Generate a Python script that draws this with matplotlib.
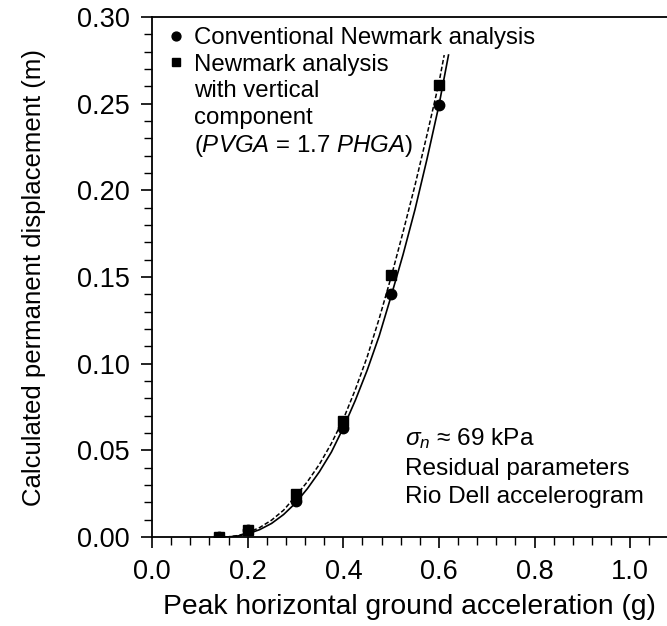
import matplotlib
matplotlib.use("Agg")
import matplotlib.pyplot as plt
from matplotlib.lines import Line2D
from matplotlib.ticker import MultipleLocator, FormatStrFormatter

# ── data ──────────────────────────────────────────────────────────────────
# measured points (PHGA in g, displacement in m)
pga_pts = [0.14, 0.20, 0.30, 0.40, 0.50, 0.60]
disp_conv = [0.000, 0.004, 0.021, 0.063, 0.140, 0.249]
disp_vert = [0.000, 0.004, 0.025, 0.067, 0.151, 0.261]

# fitted curves
curve_x_conv = [0.14, 0.16, 0.18, 0.20, 0.225, 0.25, 0.275, 0.30, 0.325,
                0.35, 0.375, 0.40, 0.425, 0.45, 0.475, 0.50, 0.525, 0.55,
                0.575, 0.60, 0.62]
curve_y_conv = [0.0, 0.0001, 0.0007, 0.0019, 0.0043, 0.0079, 0.013, 0.0196,
                0.028, 0.0377, 0.049, 0.063, 0.0788, 0.0963, 0.116, 0.139,
                0.163, 0.189, 0.218, 0.249, 0.278]
curve_x_vert = [0.14, 0.16, 0.18, 0.20, 0.225, 0.25, 0.275, 0.30, 0.325,
                0.35, 0.375, 0.40, 0.425, 0.45, 0.475, 0.50, 0.525, 0.55,
                0.575, 0.60, 0.611]
curve_y_vert = [0.0, 0.0002, 0.0009, 0.0025, 0.0055, 0.0098, 0.0155, 0.0235,
                0.032, 0.042, 0.054, 0.068, 0.085, 0.104, 0.126, 0.150,
                0.176, 0.203, 0.232, 0.262, 0.278]

legend_labels = ['Conventional Newmark analysis', 'Newmark analysis',
                 'with vertical', 'component',
                 '($\\mathit{PVGA}$ = 1.7 $\\mathit{PHGA}$)']
note_text = '$\\sigma_n$ ≈ 69 kPa\nResidual parameters\nRio Dell accelerogram'
# ─────────────────────────────────────────────────────────────────────────

plt.rcParams['font.family'] = ['Liberation Sans', 'DejaVu Sans']
plt.rcParams['mathtext.fontset'] = 'custom'
plt.rcParams['mathtext.rm'] = 'Liberation Sans'
plt.rcParams['mathtext.it'] = 'Liberation Sans:italic'

fig = plt.figure(figsize=(6.67, 6.26), dpi=100)
ax = fig.add_axes([0.228, 0.142, 0.772, 0.831])

ax.plot(curve_x_conv, curve_y_conv, color='black', lw=1.2, ls='-')
ax.plot(curve_x_vert, curve_y_vert, color='black', lw=1.1, ls=(0, (3, 1.5)))

h_vert, = ax.plot(pga_pts, disp_vert, ls='none', marker='s', ms=7.5,
                  color='black')
h_conv, = ax.plot(pga_pts, disp_conv, ls='none', marker='o', ms=7.5,
                  color='black')

# continuation lines of the second entry carry no marker
blank = [Line2D([], [], ls='none') for _ in range(3)]
ax.legend([h_conv, h_vert] + blank, legend_labels, loc='upper left',
          bbox_to_anchor=(0.0, 1.013), frameon=False, fontsize=17.3,
          handlelength=0.6, handletextpad=0.45, borderaxespad=0.3,
          labelspacing=0.19, markerscale=0.85)

ax.text(0.491, 0.056, note_text, transform=ax.transAxes, fontsize=17.6,
        ha='left', va='bottom', linespacing=1.38)

ax.set_xlim(0, 1.077)
ax.set_ylim(0, 0.30)
ax.xaxis.set_major_locator(MultipleLocator(0.2))
ax.xaxis.set_minor_locator(MultipleLocator(0.04))
ax.yaxis.set_major_locator(MultipleLocator(0.05))
ax.yaxis.set_minor_locator(MultipleLocator(0.01))
ax.xaxis.set_major_formatter(FormatStrFormatter('%.1f'))
ax.yaxis.set_major_formatter(FormatStrFormatter('%.2f'))

ax.spines['right'].set_visible(False)
for s in ['left', 'bottom', 'top']:
    ax.spines[s].set_linewidth(1.3)
ax.tick_params(which='major', direction='out', length=8, width=1.2,
               labelsize=19.5, pad=8)
ax.tick_params(which='minor', direction='out', length=6, width=1.0)

ax.set_xlabel('Peak horizontal ground acceleration (g)', fontsize=20.3,
              labelpad=6)
ax.set_ylabel('Calculated permanent displacement (m)', fontsize=18.5,
              labelpad=22)

fig.savefig('out.png', dpi=100)
